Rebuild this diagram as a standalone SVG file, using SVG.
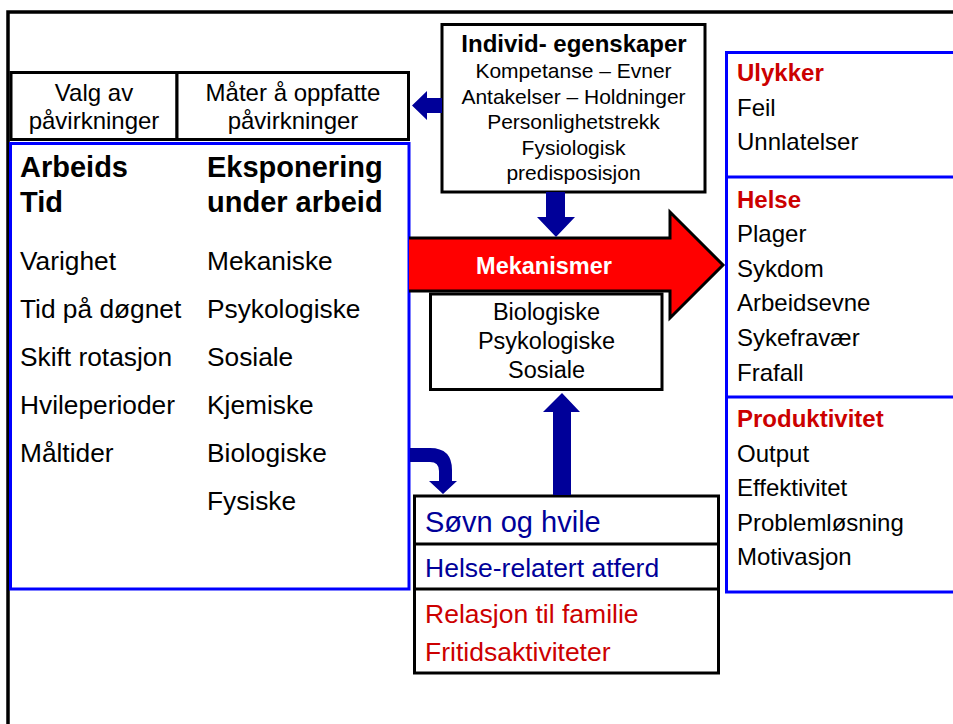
<svg xmlns="http://www.w3.org/2000/svg" width="953" height="724" viewBox="0 0 953 724">
<style>
text{font-family:"Liberation Sans",Arial,sans-serif;fill:#000}
.b{font-weight:bold}
.blk{fill:#fff;stroke:#000;stroke-width:3}
.blu{fill:#fff;stroke:#0000ff;stroke-width:3}
.ln{fill:none;stroke:#0000ff;stroke-width:3}
.arr{fill:#000099;stroke:none}
.red{fill:#cc0000}
.dblue{fill:#000099}
.c{text-anchor:middle}
.s21{font-size:21px}
.s24{font-size:24px}
.s26{font-size:26.3px}
.s28{font-size:29px}
</style>
<rect width="953" height="724" fill="#fff"/>
<g id="frame">
<path d="M8,724 L8,12 L960,12" fill="none" stroke="#000" stroke-width="3.5"/>
</g>
<g id="valg">
<rect class="blk" x="11" y="72.5" width="166" height="67"/>
<text class="s24 c" x="94" y="101">Valg av</text>
<text class="s24 c" x="94" y="129">påvirkninger</text>
</g>
<g id="mater">
<rect class="blk" x="177" y="72.5" width="231.5" height="67"/>
<text class="s24 c" x="293" y="101">Måter å oppfatte</text>
<text class="s24 c" x="293" y="129">påvirkninger</text>
</g>
<g id="arbeid">
<rect class="blu" x="10.5" y="143.5" width="398.5" height="445.5"/>
<text class="b s28" x="20" y="177">Arbeids</text>
<text class="b s28" x="20" y="212">Tid</text>
<text class="b s28" x="207" y="177">Eksponering</text>
<text class="b s28" x="207" y="212">under arbeid</text>
<text class="s26" x="20" y="270">Varighet</text>
<text class="s26" x="20" y="318">Tid på døgnet</text>
<text class="s26" x="20" y="366">Skift rotasjon</text>
<text class="s26" x="20" y="414">Hvileperioder</text>
<text class="s26" x="20" y="462">Måltider</text>
<text class="s26" x="207" y="270">Mekaniske</text>
<text class="s26" x="207" y="318">Psykologiske</text>
<text class="s26" x="207" y="366">Sosiale</text>
<text class="s26" x="207" y="414">Kjemiske</text>
<text class="s26" x="207" y="462">Biologiske</text>
<text class="s26" x="207" y="510">Fysiske</text>
</g>
<g id="individ">
<rect class="blk" x="442" y="24.5" width="263" height="167.5"/>
<text class="b c" x="574" y="52" font-size="24">Individ- egenskaper</text>
<text class="s21 c" x="573.5" y="78">Kompetanse – Evner</text>
<text class="s21 c" x="573.5" y="104">Antakelser – Holdninger</text>
<text class="s21 c" x="573.5" y="129">Personlighetstrekk</text>
<text class="s21 c" x="573.5" y="155">Fysiologisk</text>
<text class="s21 c" x="573.5" y="180">predisposisjon</text>
</g>
<g id="utfall">
<rect class="blu" x="726.5" y="52.5" width="240" height="539.5"/>
<line class="ln" x1="726.5" y1="177" x2="960" y2="177"/>
<line class="ln" x1="726.5" y1="397" x2="960" y2="397"/>
<text class="b s24 red" x="737" y="81">Ulykker</text>
<text class="s24" x="737" y="116">Feil</text>
<text class="s24" x="737" y="150">Unnlatelser</text>
<text class="b s24 red" x="737" y="208">Helse</text>
<text class="s24" x="737" y="242">Plager</text>
<text class="s24" x="737" y="277">Sykdom</text>
<text class="s24" x="737" y="311">Arbeidsevne</text>
<text class="s24" x="737" y="346">Sykefravær</text>
<text class="s24" x="737" y="381">Frafall</text>
<text class="b s24 red" x="737" y="427">Produktivitet</text>
<text class="s24" x="737" y="462">Output</text>
<text class="s24" x="737" y="496">Effektivitet</text>
<text class="s24" x="737" y="531">Problemløsning</text>
<text class="s24" x="737" y="565">Motivasjon</text>
</g>
<g id="mekanismer">
<path d="M409,238 L670,238 L670,212 L723,265 L670,318 L670,291 L409,291 Z" fill="#ff0000"/>
<path d="M409,238 L670,238 L670,212 L723,265 L670,318 L670,291 L409,291" fill="none" stroke="#000" stroke-width="3" stroke-linejoin="miter"/>
<text class="b c" x="544" y="274" font-size="23.5" style="fill:#fff">Mekanismer</text>
</g>
<g id="biologiske">
<rect class="blk" x="430.5" y="294" width="231.5" height="95.5"/>
<text class="c" x="546.5" y="320" font-size="23.5">Biologiske</text>
<text class="c" x="546.5" y="349" font-size="23.5">Psykologiske</text>
<text class="c" x="546.5" y="378" font-size="23.5">Sosiale</text>
</g>
<g id="privat">
<rect class="blk" x="414.5" y="496" width="304" height="177"/>
<line x1="414.5" y1="544" x2="718.5" y2="544" stroke="#000" stroke-width="3"/>
<line x1="414.5" y1="589" x2="718.5" y2="589" stroke="#000" stroke-width="3"/>
<text class="dblue" x="425" y="532" font-size="29">Søvn og hvile</text>
<text class="dblue" x="425" y="577" font-size="26.5">Helse-relatert atferd</text>
<text class="red" x="425" y="623" font-size="26.5">Relasjon til familie</text>
<text class="red" x="425" y="661" font-size="26.5">Fritidsaktiviteter</text>
</g>
<g id="connectors">
<path class="arr" d="M442,98 L427,98 L427,91 L412,105.5 L427,120 L427,113 L442,113 Z"/>
<path class="arr" d="M546,192 L565,192 L565,217 L575,217 L556,237 L537,217 L546,217 Z"/>
<path class="arr" d="M553,495 L571,495 L571,412 L580,412 L562,393 L543,412 L553,412 Z"/>
<path class="arr" d="M410,448 L430,448 Q452,448 452,470 L452,481 L457,481 L443,494 L429,481 L439,481 L439,471 Q439,462 430,462 L410,462 Z"/>
</g>
</svg>
